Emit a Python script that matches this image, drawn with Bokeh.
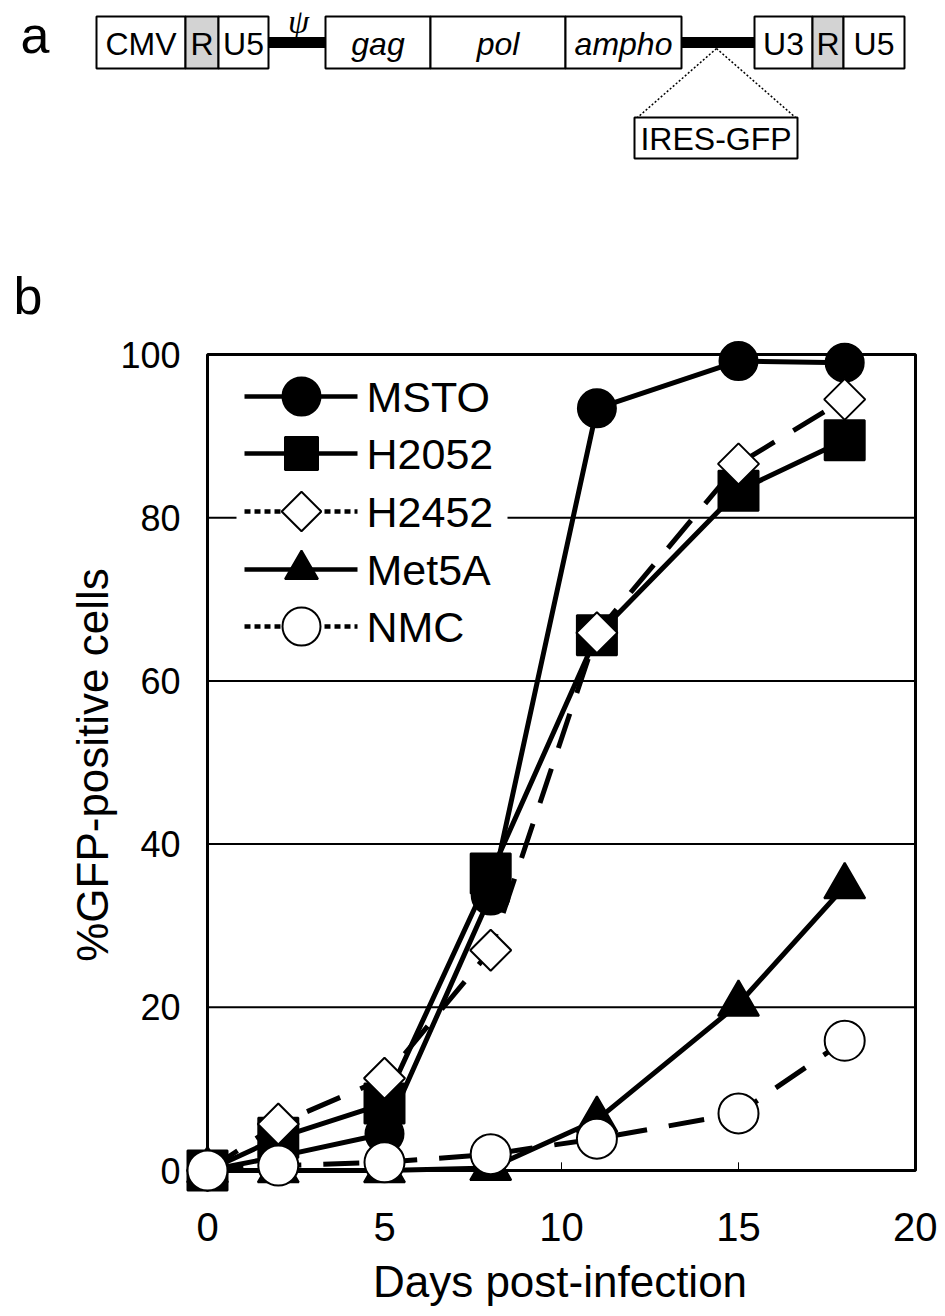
import numpy as np
from bokeh.plotting import figure
from bokeh.layouts import column
from bokeh.models import Range1d, FixedTicker
from bokeh.core.properties import value
from bokeh.embed import file_html
from bokeh.resources import INLINE

FONT = "Liberation Sans"

# ---------------- data ----------------
days = [0, 2, 5, 8, 11, 15, 18]
msto = [0.0, 1.7, 4.5, 33.7, 93.4, 99.2, 99.0]
h2052 = [0.0, 4.0, 8.2, 36.4, 65.6, 83.3, 89.5]
h2452 = [0.0, 5.7, 11.3, 27.0, 65.9, 86.6, 94.5]
met5a = [0.0, 0.0, 0.0, 0.3, 6.2, 20.4, 34.8]
nmc = [0.0, 0.6, 1.0, 2.0, 3.9, 7.0, 15.9]
series_labels = ["MSTO", "H2052", "H2452", "Met5A", "NMC"]
x_ticks = [0, 5, 10, 15, 20]
y_ticks = [0, 20, 40, 60, 80, 100]
grid_levels = [20, 40, 60, 80]
x_title = "Days post-infection"
y_title = "%GFP-positive cells"

# diagram (panel a) labels
diagram_labels = ["CMV", "R", "U5", "gag", "pol", "ampho", "U3", "R", "U5"]
diagram_italic = [False, False, False, True, True, True, False, False, False]
diagram_shaded = [False, True, False, False, False, False, False, True, False]
insert_label = "IRES-GFP"
psi_label = "\u03c8"
panel_letters = ["a", "b"]

# ---------------- layout constants (page pixels) ----------------
PAGE_W = 937
A_H = 328
B_H = 984
B_TOP = A_H

X0_PX, X20_PX = 207, 915       # x = 0 and x = 20
Y0_PX, Y100_PX = 1170, 354     # y = 0 and y = 100
FR_L, FR_R, FR_T, FR_B = 182, 937, 334, 1195   # bokeh frame (padded)
PPX = (X20_PX - X0_PX) / 20.0
PPY = (Y0_PX - Y100_PX) / 100.0


def xd(px):
    return (px - X0_PX) / PPX


def yd(py):
    return (Y0_PX - py) / PPY


def no_align(fig):
    try:
        fig.frame_align = False
    except Exception:
        pass


# ---------------- panel a: vector diagram ----------------
pa = figure(width=PAGE_W, height=A_H, x_range=Range1d(0, PAGE_W),
            y_range=Range1d(A_H, 0), x_axis_type=None, y_axis_type=None,
            output_backend="svg", toolbar_location=None, min_border=0)
pa.grid.visible = False
pa.outline_line_color = None
no_align(pa)

cell_edges = [96, 185, 218, 268, 325, 430, 565, 681, 754, 812, 843, 904]
cell_pairs = [(0, 1), (1, 2), (2, 3), (4, 5), (5, 6), (6, 7), (8, 9), (9, 10), (10, 11)]
BOX_T, BOX_B = 16, 68
lefts = [cell_edges[a] for a, b in cell_pairs]
rights = [cell_edges[b] for a, b in cell_pairs]
fills = ["#d3d3d3" if s else "white" for s in diagram_shaded]

# thick connecting lines
pa.quad(left=[268, 681], right=[325, 754], top=[37, 37], bottom=[47, 47],
        fill_color="black", line_color="black")
pa.quad(left=lefts, right=rights, top=[BOX_T] * 9, bottom=[BOX_B] * 9,
        fill_color=fills, line_color="black", line_width=2)

cx = [(l + r) / 2 for l, r in zip(lefts, rights)]
norm_i = [i for i in range(9) if not diagram_italic[i]]
ital_i = [i for i in range(9) if diagram_italic[i]]
pa.text(x=[cx[i] for i in norm_i], y=[43] * len(norm_i), text=[diagram_labels[i] for i in norm_i],
        text_align="center", text_baseline="middle", text_font=value(FONT),
        text_font_size="32px", text_color="black")
pa.text(x=[cx[i] for i in ital_i], y=[43] * len(ital_i), text=[diagram_labels[i] for i in ital_i],
        text_align="center", text_baseline="middle", text_font=value(FONT),
        text_font_style="italic", text_font_size="32px", text_color="black")
pa.text(x=[298], y=[21], text=[psi_label], text_align="center", text_baseline="middle",
        text_font=value("Liberation Serif"), text_font_style="italic",
        text_font_size="34px", text_color="black")

# insert box with dotted zoom lines
pa.segment(x0=[716, 716], y0=[48, 48], x1=[637, 795], y1=[117, 117],
           line_color="black", line_width=1.5, line_dash="2 2")
pa.quad(left=[634], right=[797], top=[117], bottom=[158], fill_color="white",
        line_color="black", line_width=2)
pa.text(x=[715.5], y=[138], text=[insert_label], text_align="center", text_baseline="middle",
        text_font=value(FONT), text_font_size="32px", text_color="black")

# panel letters
pa.text(x=[20, 13], y=[34, 295], text=panel_letters, text_align="left", text_baseline="middle",
        text_font=value(FONT), text_font_size="52px", text_color="black")

# ---------------- panel b: line chart ----------------
pb = figure(width=PAGE_W, height=B_H,
            x_range=Range1d(xd(FR_L), xd(FR_R)), y_range=Range1d(yd(FR_B), yd(FR_T)),
            output_backend="svg", toolbar_location=None,
            min_border_left=FR_L, min_border_right=PAGE_W - FR_R,
            min_border_top=FR_T - B_TOP, min_border_bottom=B_TOP + B_H - FR_B)
pb.grid.visible = False
pb.outline_line_color = None
no_align(pb)

for ax in (pb.xaxis[0], pb.yaxis[0]):
    ax.axis_line_color = None
    ax.major_tick_line_color = None
    ax.minor_tick_line_color = None
    ax.major_tick_in = 0
    ax.major_tick_out = 0
    ax.minor_tick_in = 0
    ax.minor_tick_out = 0
    ax.major_label_text_font = FONT
    ax.major_label_text_color = "black"
    ax.axis_label_text_font = FONT
    ax.axis_label_text_font_style = "normal"
    ax.axis_label_text_color = "black"
    ax.axis_label_text_font_size = "44px"

pb.xaxis[0].ticker = FixedTicker(ticks=x_ticks)
pb.xaxis[0].major_label_text_font_size = "40px"
pb.xaxis[0].major_label_standoff = 17
pb.xaxis[0].axis_label = x_title
pb.xaxis[0].axis_label_standoff = 13

pb.yaxis[0].ticker = FixedTicker(ticks=y_ticks)
pb.yaxis[0].major_label_text_font_size = "36px"
pb.yaxis[0].major_label_standoff = 2
pb.yaxis[0].axis_label = y_title
pb.yaxis[0].axis_label_standoff = 0

# visible frame, gridlines, small inner ticks
pb.segment(x0=[0] * len(grid_levels), x1=[20] * len(grid_levels), y0=grid_levels, y1=grid_levels,
           line_color="black", line_width=2)
pb.segment(x0=x_ticks, x1=x_ticks, y0=[0] * len(x_ticks), y1=[1.0] * len(x_ticks),
           line_color="black", line_width=1)
pb.quad(left=[0], right=[20], bottom=[0], top=[100], fill_color=None,
        line_color="black", line_width=3)

# legend (drawn by hand)
pb.quad(left=[xd(236)], right=[xd(507)], top=[yd(364)], bottom=[yd(656)],
        fill_color="white", line_color=None)

styles = {
    "MSTO": dict(vals=msto, marker="circle", size=38, angle=0.0, fill="black", dash="solid",
                 leg_dash="solid", leg_size=38),
    "H2052": dict(vals=h2052, marker="square", size=40, angle=0.0, fill="black", dash="solid",
                  leg_dash="solid", leg_size=33),
    "H2452": dict(vals=h2452, marker="square", size=29, angle=np.pi / 4, fill="white",
                  dash="36 22", leg_dash="6 4", leg_size=28),
    "Met5A": dict(vals=met5a, marker="triangle", size=41, angle=0.0, fill="black", dash="solid",
                  leg_dash="solid", leg_size=33),
    "NMC": dict(vals=nmc, marker="circle", size=40, angle=0.0, fill="white", dash="36 22",
                leg_dash="6 4", leg_size=38),
}

leg_rows = [396, 453, 511, 569, 626]
for lab, row in zip(series_labels, leg_rows):
    st = styles[lab]
    pb.line([xd(244), xd(357)], [yd(row), yd(row)], line_color="black", line_width=4.5,
            line_dash=st["leg_dash"])
    pb.scatter([xd(301)], [yd(row)], marker=st["marker"], size=st["leg_size"], angle=st["angle"],
               fill_color=st["fill"], line_color="black", line_width=2)
    pb.text([xd(366)], [yd(row)], text=[lab], text_align="left", text_baseline="middle",
            text_font=value(FONT), text_font_size="43px", text_color="black")

# series
draw_order = ["Met5A", "MSTO", "H2052", "H2452", "NMC"]
for lab in draw_order:
    st = styles[lab]
    pb.line(days, st["vals"], line_color="black", line_width=5, line_dash=st["dash"])
    pb.scatter(days, st["vals"], marker=st["marker"], size=st["size"], angle=st["angle"],
               fill_color=st["fill"], line_color="black", line_width=2)

layout = column(pa, pb)
open("out.html", "w").write(file_html(layout, INLINE))
